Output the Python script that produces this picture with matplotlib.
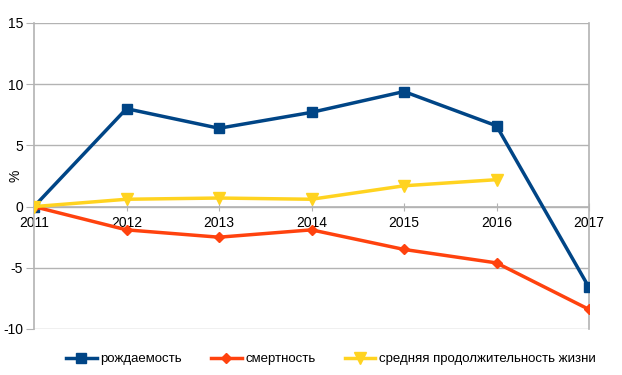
import matplotlib.pyplot as plt
from matplotlib.lines import Line2D

plt.rcParams['font.family'] = ['Liberation Sans', 'DejaVu Sans']

# данные (читаются с графика)
years = ['2011', '2012', '2013', '2014', '2015', '2016', '2017']
birth = [0, 8.0, 6.4, 7.7, 9.4, 6.6, -6.6]
death = [0, -1.9, -2.5, -1.9, -3.5, -4.6, -8.4]
life = [0, 0.6, 0.7, 0.6, 1.7, 2.2]

c_birth = '#004586'
c_death = '#ff420e'
c_life = '#ffd320'
grid_c = '#b3b3b3'

fig = plt.figure(figsize=(6.22, 3.75), dpi=100)
ax = fig.add_axes([34 / 622, 1 - 329 / 375, (589 - 34) / 622, (329 - 23) / 375])

x = list(range(len(years)))
ax.plot(x, birth, color=c_birth, lw=2.5, marker='s', ms=7.5, zorder=3)
ax.plot(x, death, color=c_death, lw=2.5, marker='D', ms=5.5, zorder=3)
ax.plot(x[:len(life)], life, color=c_life, lw=2.5, marker='v', ms=8, zorder=3)

ax.set_xlim(0, len(years) - 1)
ax.set_ylim(-10, 15)
ax.set_yticks([-10, -5, 0, 5, 10, 15])
ax.set_yticklabels(['-10', '-5', '0', '5', '10', '15'])
ax.grid(axis='y', color=grid_c, lw=1)
ax.set_axisbelow(True)

# ось X проходит через ноль
ax.spines['bottom'].set_position(('data', 0))
for s in ['bottom', 'left', 'right']:
    ax.spines[s].set_color(grid_c)
    ax.spines[s].set_linewidth(1.2)
ax.spines['top'].set_visible(False)
ax.set_xticks(x)
ax.set_xticklabels(years)
ax.tick_params(axis='x', direction='inout', length=6, color=grid_c, labelsize=10, pad=4)
ax.tick_params(axis='y', length=6, color=grid_c, labelsize=10, pad=2)

ax.set_ylabel('%', fontsize=10)
ax.yaxis.set_label_coords(-11 / 555, 0.5)

handles = [
    Line2D([], [], color=c_birth, lw=2.5, marker='s', ms=7.5),
    Line2D([], [], color=c_death, lw=2.5, marker='D', ms=5.5),
    Line2D([], [], color=c_life, lw=2.5, marker='v', ms=8),
]
labels = ['рождаемость', 'смертность', 'средняя продолжительность жизни']
fig.legend(handles, labels, loc='center', bbox_to_anchor=(331 / 622, 1 - 359 / 375),
           ncol=3, frameon=False, fontsize=9.5, handlelength=2.3,
           columnspacing=2.2, handletextpad=0.3, borderpad=0)

plt.savefig('out.png', dpi=100)
